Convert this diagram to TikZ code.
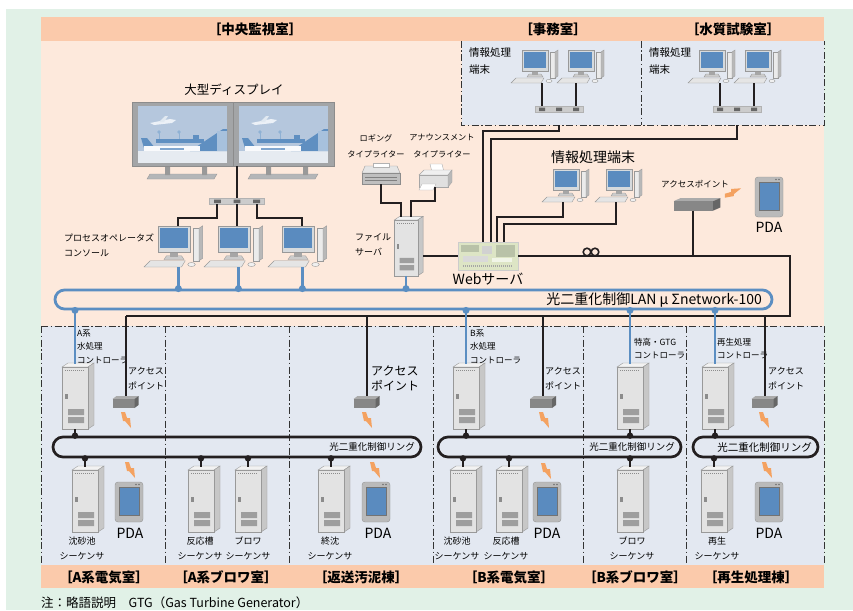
\documentclass[tikz,border=0pt]{standalone}
\usepackage{fontspec}
\setmainfont{Noto Sans CJK JP}
\usetikzlibrary{positioning}

\definecolor{pageGreen}{HTML}{E1F1E7}
\definecolor{roomHead}{HTML}{FBCAAB}
\definecolor{roomPeach}{HTML}{FDE9DC}
\definecolor{roomBlue}{HTML}{E3E8F1}
\definecolor{lanBlue}{HTML}{5B8EC2}
\definecolor{wireBlack}{HTML}{231F20}
\definecolor{screenBlue}{HTML}{5A8BBF}
\definecolor{pcFrame}{HTML}{D6DADD}
\definecolor{boltOrange}{HTML}{F4A261}
\definecolor{skyBlue}{HTML}{B5C7DD}
\definecolor{planeBlue}{HTML}{5F8FC1}
\definecolor{dispGrey}{HTML}{A3A5A7}
\definecolor{standGrey}{HTML}{B4B6B8}
\definecolor{groundWhite}{HTML}{E6EBF1}
\definecolor{webGreen}{HTML}{DDE5C5}
\definecolor{webGrey}{HTML}{B9C2A8}

\begin{document}
\begin{tikzpicture}[x=1pt, y=-1pt]
	% Styles
	\tikzstyle{wire} = [draw=wireBlack, line width=2pt]
	\tikzstyle{lanwire} = [draw=lanBlue, line width=2.8pt]
	\tikzstyle{lanring} = [draw=lanBlue, line width=2.8pt, rounded corners=9.5pt, inner sep=0pt]
	\tikzstyle{ctrlring} = [draw=wireBlack, line width=2.7pt, rounded corners=10pt, inner sep=0pt, minimum height=20pt]
	\tikzstyle{roomline} = [draw=black!80, line width=1pt, dash pattern=on 7pt off 2.5pt on 1.5pt off 2.5pt]
	\tikzstyle{roombox} = [fill=roomBlue, inner sep=0pt, minimum height=84pt]
	\tikzstyle{roomtitle} = [font=\fontsize{13.5}{16}\selectfont\bfseries, inner sep=0pt]
	\tikzstyle{lbl} = [font=\fontsize{8.5}{13.5}\selectfont, align=left, inner sep=0pt]
	\tikzstyle{lblmid} = [font=\fontsize{9}{15}\selectfont, align=center, inner sep=0pt]
	\tikzstyle{lblprint} = [font=\fontsize{8.2}{16.5}\selectfont, align=center, inner sep=0pt]
	\tikzstyle{lblbig} = [font=\fontsize{14}{16}\selectfont, inner sep=0pt]

	% Icons
	\tikzset{
		desktop/.pic={
			\filldraw[fill=black!20, draw=black!40, thin] (-8,-6) -- (8,-6) -- (6,-9) -- (-6,-9) -- cycle;
			\fill[black!35] (-3,-12) rectangle (3,-8);
			\filldraw[fill=pcFrame, draw=black!40, thin] (-13,-33) rectangle (13,-12);
			\fill[screenBlue] (-11,-31) rectangle (11,-15);
			\filldraw[fill=black!8, draw=black!40, thin] (15,-31) rectangle (20,-5);
			\filldraw[fill=black!28, draw=black!40, thin] (20,-31) -- (23,-33) -- (23,-7) -- (20,-5) -- cycle;
			\filldraw[fill=black!10, draw=black!40, thin] (-24,0) -- (6,0) -- (9,-5) -- (-19,-5) -- cycle;
			\filldraw[fill=black!6, draw=black!40, thin] (14,-2) ellipse (3pt and 1.6pt);
			\coordinate (-top) at (3.5,-33);
			\coordinate (-bot) at (3.5,0);
		},
		cabinet/.pic={
			\filldraw[fill=black!5, draw=black!40, thin] (-13,0) -- (-7,-4) -- (19,-4) -- (13,0) -- cycle;
			\filldraw[fill=black!22, draw=black!40, thin] (13,0) -- (19,-4) -- (19,58) -- (13,62) -- cycle;
			\filldraw[fill=black!11, draw=black!40, thin] (-13,0) rectangle (13,62);
			\draw[black!45, line width=1pt, dash pattern=on 1pt off 1pt] (-10,3.5) -- (10,3.5);
			\fill[black!45] (-10,27) rectangle (-7.5,32);
			\fill[black!38] (-7,42) rectangle (9,48) (-7,50) rectangle (9,56);
			\coordinate (-top) at (0,-3);
			\coordinate (-bot) at (0,62);
			\coordinate (-side) at (19,40);
		},
		accesspoint/.pic={
			\fill[black!33] (-13,3) -- (-9,0) -- (13,0) -- (9,3) -- cycle;
			\fill[black!47] (-13,3) rectangle (9,12);
			\fill[black!60] (9,3) -- (13,0) -- (13,9) -- (9,12) -- cycle;
			\coordinate (-top) at (0,0);
			\coordinate (-bot) at (-2,12);
		},
		pda/.pic={
			\filldraw[fill=black!27, draw=black!42, rounded corners=3pt] (-14,-20) rectangle (14,20);
			\filldraw[fill=screenBlue, draw=black!55, thin] (-10,-15) rectangle (10,13);
			\fill[black!55] (7,-17.5) circle (0.8pt) (10,-17.5) circle (0.8pt);
		},
		bolt/.pic={
			\fill[boltOrange] (-5,-8) -- (-1,-8) -- (1,-2) -- (4,-2) -- (5,8) -- (-1,1) -- (-3,1) -- cycle;
		},
		hub/.pic={
			\filldraw[fill=black!20, draw=black!30, thin] (-24,-3) rectangle (24,3);
			\fill[black!60] (-20,-1.5) rectangle (-14,2) (-3,-1.5) rectangle (3,2) (14,-1.5) rectangle (20,2);
			\coordinate (-n1) at (-17,-3);
			\coordinate (-n2) at (0,-3);
			\coordinate (-n3) at (17,-3);
			\coordinate (-s1) at (-17,3);
			\coordinate (-s2) at (0,3);
			\coordinate (-s3) at (17,3);
		},
		logprinter/.pic={
			\filldraw[fill=black!10, draw=black!40, thin] (-16,-9) -- (16,-9) -- (19,-2) -- (-19,-2) -- cycle;
			\filldraw[fill=white, draw=black!30, thin] (-8,-12) rectangle (8,-8);
			\filldraw[fill=black!25, draw=black!45, thin] (-19,-2) rectangle (19,9);
			\draw[black!50] (-16,2) -- (16,2) (-16,5) -- (16,5);
			\coordinate (-bot) at (0,9);
		},
		annprinter/.pic={
			\filldraw[fill=white, draw=black!30, thin] (-5,-14) -- (7,-14) -- (9,-6) -- (-3,-6) -- cycle;
			\filldraw[fill=black!6, draw=black!35, thin] (-16,-3) -- (-11,-8) -- (17,-8) -- (13,-3) -- cycle;
			\filldraw[fill=black!12, draw=black!35, thin] (-16,-3) rectangle (13,9);
			\filldraw[fill=black!28, draw=black!35, thin] (13,-3) -- (17,-8) -- (17,4) -- (13,9) -- cycle;
			\filldraw[fill=white, draw=black!30, thin] (-13,6) -- (1,6) -- (-2,12) -- (-16,12) -- cycle;
			\coordinate (-bot) at (0,9);
		},
		bigscreen/.pic={
			\filldraw[fill=standGrey, draw=black!40, thin] (18,72) -- (85,72) -- (82,77) -- (15,77) -- cycle;
			\fill[black!40] (33,64) rectangle (38,73) (70,64) rectangle (75,73);
			\filldraw[fill=dispGrey, draw=black!45, thin] (0,0) rectangle (101,64);
			\fill[skyBlue] (6,4) rectangle (95,61);
			\fill[groundWhite] (6,49) rectangle (95,61);
			% airliner in flight
			\fill[white!75!skyBlue] (18,21) -- (38,17) -- (44,18) -- (40,21) -- (22,23) -- cycle;
			\fill[white!60!skyBlue] (27,20) -- (33,14) -- (36,14) -- (32,20) -- cycle;
			% terminal building
			\fill[planeBlue] (58,49) -- (91,27) -- (95,27) -- (95,49) -- cycle;
			\fill[planeBlue!55!white] (85,29) rectangle (95,49);
			\fill[planeBlue] (24,37) rectangle (72,41);
			\draw[planeBlue!70!white, line width=0.8pt] (27,30) -- (27,37) (47,30) -- (47,37);
			\fill[planeBlue!70!white] (27,30) circle (1.8pt) (47,30) circle (1.8pt);
			\fill[planeBlue] (61,33) rectangle (67,37);
			% parked airliner
			\fill[planeBlue] (9,36) -- (15,36) -- (23,46) -- (12,46) -- cycle;
			\fill[white!92!skyBlue] (12,44) rectangle (68,49);
			\fill[planeBlue!80] (28,46) rectangle (52,47.5);
			\coordinate (-foot) at (0,64);
		}
	}

	% Page and rooms
	\useasboundingbox (0,0) rectangle (853,610);
	\fill[white] (0,0) rectangle (853,610);
	\fill[pageGreen] (6,9) rectangle (853,610);
	\fill[roomPeach] (41,17) rectangle (824,326);
	\fill[roomHead] (41,17) rectangle (824,41);
	\fill[roomBlue] (41,326) rectangle (824,565);
	\fill[roomHead] (41,565) rectangle (824,588);
	\node[roombox, minimum width=179pt] (office) at (551.5,83) {};
	\node[roombox, minimum width=183pt] (lab) at (732.5,83) {};
	\draw[roomline] (office.north west) -- (office.south west) -- (lab.south east) -- (lab.north east);
	\draw[roomline] (office.north east) -- (office.south east);
	\draw[roomline] (41,326) -- (824,326);
	\foreach \x in {41,165,289,433,583,686,824}
		\draw[roomline] (\x,326) -- (\x,565);

	% Room names
	\node[roomtitle] (centralTitle) at (255,29) {［中央監視室］};
	\node[roomtitle] (officeTitle) at (553,29) {［事務室］};
	\node[roomtitle] (labTitle) at (733,29) {［水質試験室］};
	\node[roomtitle] (aElecTitle) at (104,577) {［A系電気室］};
	\node[roomtitle] (aBlowTitle) at (226,577) {［A系ブロワ室］};
	\node[roomtitle] (sludgeTitle) at (361,577) {［返送汚泥棟］};
	\node[roomtitle] (bElecTitle) at (509,577) {［B系電気室］};
	\node[roomtitle] (bBlowTitle) at (635,577) {［B系ブロワ室］};
	\node[roomtitle] (regenTitle) at (751,577) {［再生処理棟］};

	% Central control room
	\node[font=\fontsize{12.5}{14}\selectfont, inner sep=0pt] (displayTitle) at (234,90) {大型ディスプレイ};
	\pic (monitorL) at (132,102) {bigscreen};
	\pic (monitorR) at (233,102) {bigscreen};
	\pic[xscale=1.15] (hubDisplay) at (237,201) {hub};
	\pic[scale=1.25] (consoleA) at (174,267) {desktop};
	\pic[scale=1.25] (consoleB) at (234,267) {desktop};
	\pic[scale=1.25] (consoleC) at (298,267) {desktop};
	\node[lblmid, align=left, anchor=west] (consoleLabel) at (64,245) {プロセスオペレータズ\\コンソール};

	\pic (loggingPrinter) at (381,175) {logprinter};
	\pic (announcePrinter) at (435,178) {annprinter};
	\node[lblprint] (loggingLabel) at (376,146) {ロギング\\タイプライター};
	\node[lblprint] (announceLabel) at (442,146) {アナウンスメント\\タイプライター};
	\pic[scale=0.9] (fileServer) at (406,220) {cabinet};
	\node[lblmid, align=left, anchor=west] (fileServerLabel) at (355,244.5) {ファイル\\サーバ};

	\node[draw=black!20, fill=webGreen, minimum width=60pt, minimum height=28pt, inner sep=0pt] (webServer) at (488,256) {};
	\begin{scope}[shift={(webServer.north west)}]
		\fill[webGrey] (3,3) rectangle (21,10);
		\fill[black!18] (24,4) rectangle (34,12);
		\fill[webGrey] (38,3) rectangle (57,15);
		\fill[black!15] (5,14) rectangle (30,20);
		\fill[white!60!webGreen] (34,16) rectangle (54,20);
		\draw[black!35, dash pattern=on 1pt off 1pt, line width=2pt] (5,24) -- (55,24);
	\end{scope}
	\node[lblbig, below=3pt of webServer] (webLabel) {Webサーバ};

	\node[lblbig] (infoTitle) at (593,157) {情報処理端末};
	\pic (infoPcA) at (566,202) {desktop};
	\pic (infoPcB) at (619,202) {desktop};

	\node[lbl] (apTopLabel) at (695,184) {アクセスポイント};
	\pic[xscale=1.8, yscale=1.05] (apTop) at (697,198) {accesspoint};
	\pic[rotate=88] (boltTop) at (733,193) {bolt};
	\pic (pdaTop) at (769,197) {pda};
	\node[lblbig] (pdaTopLabel) at (769,227) {PDA};

	% Office and laboratory
	\node[font=\fontsize{10.5}{16.5}\selectfont, align=left, inner sep=0pt, anchor=west] (officeLabel) at (469,61) {情報処理\\端末};
	\pic (pcOfficeA) at (535,83) {desktop};
	\pic (pcOfficeB) at (581,83) {desktop};
	\pic (hubOffice) at (559,109) {hub};
	\node[font=\fontsize{10.5}{16.5}\selectfont, align=left, inner sep=0pt, anchor=west] (labLabel) at (649,61) {情報処理\\端末};
	\pic (pcLabA) at (712,83) {desktop};
	\pic (pcLabB) at (758,83) {desktop};
	\pic (hubLab) at (737,109) {hub};

	% Optical LAN
	\node[lanring, minimum width=717pt, minimum height=19pt] (lan) at (413.5,299.5) {};
	\node[lblbig, anchor=east] (lanLabel) at (762,300) {光二重化制御LAN μ Σnetwork-100};

	% Controllers and access points
	\pic (ctrlA) at (75,367) {cabinet};
	\pic (ctrlB) at (466,367) {cabinet};
	\pic (ctrlGtg) at (630,367) {cabinet};
	\pic (ctrlRegen) at (715,367) {cabinet};
	\node[lbl, anchor=north west] (ctrlALabel) at (77,329) {A系\\水処理\\コントローラ};
	\node[lbl, anchor=north west] (ctrlBLabel) at (470,329) {B系\\水処理\\コントローラ};
	\node[lbl, anchor=north west] (ctrlGtgLabel) at (634,338) {特高・GTG\\コントローラ};
	\node[lbl, anchor=north west] (ctrlRegenLabel) at (717,338) {再生処理\\コントローラ};

	\pic (apA) at (125.5,396) {accesspoint};
	\pic (apSludge) at (366.5,396) {accesspoint};
	\pic (apB) at (543,396) {accesspoint};
	\pic (apRegen) at (764.5,396) {accesspoint};
	\node[lblmid, align=left, anchor=north west] (apALabel) at (128,367) {アクセス\\ポイント};
	\node[font=\fontsize{12}{14.5}\selectfont, align=left, inner sep=0pt, anchor=north west] (apSludgeLabel) at (371,366) {アクセス\\ポイント};
	\node[lblmid, align=left, anchor=north west] (apBLabel) at (545,367) {アクセス\\ポイント};
	\node[lblmid, align=left, anchor=north west] (apRegenLabel) at (768,367) {アクセス\\ポイント};
	\pic (boltApA) at (126,420) {bolt};
	\pic (boltApSludge) at (367,420) {bolt};
	\pic (boltApB) at (544,420) {bolt};
	\pic (boltApRegen) at (764,420) {bolt};

	% Control rings
	\node[ctrlring, minimum width=368pt] (ringA) at (237,447) {};
	\node[ctrlring, minimum width=243pt] (ringB) at (559.5,447) {};
	\node[ctrlring, minimum width=125pt] (ringRegen) at (755.5,447) {};
	\node[font=\fontsize{9.5}{11}\selectfont, inner sep=0pt, anchor=east] (ringALabel) at (415,447) {光二重化制御リング};
	\node[font=\fontsize{9.5}{11}\selectfont, inner sep=0pt, anchor=east] (ringBLabel) at (675,447) {光二重化制御リング};
	\node[font=\fontsize{10.5}{12}\selectfont, inner sep=0pt, anchor=east] (ringRegenLabel) at (812,447) {光二重化制御リング};

	% Sequencers and handhelds
	\pic (seqGrit) at (85,470) {cabinet};
	\pic (seqReactA) at (201,470) {cabinet};
	\pic (seqBlowA) at (248,470) {cabinet};
	\pic (seqFinal) at (331,470) {cabinet};
	\pic (seqGritB) at (463,470) {cabinet};
	\pic (seqReactB) at (509,470) {cabinet};
	\pic (seqBlowB) at (630,470) {cabinet};
	\pic (seqRegen) at (714,470) {cabinet};
	\node[lblmid] (seqGritLabel) at (82,548) {沈砂池\\シーケンサ};
	\node[lblmid] (seqReactALabel) at (200,548) {反応槽\\シーケンサ};
	\node[lblmid] (seqBlowALabel) at (248,548) {ブロワ\\シーケンサ};
	\node[lblmid] (seqFinalLabel) at (330,548) {終沈\\シーケンサ};
	\node[lblmid] (seqGritBLabel) at (457,548) {沈砂池\\シーケンサ};
	\node[lblmid] (seqReactBLabel) at (506,548) {反応槽\\シーケンサ};
	\node[lblmid] (seqBlowBLabel) at (632,548) {ブロワ\\シーケンサ};
	\node[lblmid] (seqRegenLabel) at (717,548) {再生\\シーケンサ};

	\pic (pdaA) at (129,502) {pda};
	\pic (pdaSludge) at (376,502) {pda};
	\pic (pdaB) at (547,502) {pda};
	\pic (pdaRegen) at (769,502) {pda};
	\pic (boltPdaA) at (130,470) {bolt};
	\pic (boltPdaSludge) at (375,470) {bolt};
	\pic (boltPdaB) at (546,471) {bolt};
	\pic (boltPdaRegen) at (767,470) {bolt};
	\node[lblbig] (pdaALabel) at (130,533) {PDA};
	\node[lblbig] (pdaSludgeLabel) at (378,533) {PDA};
	\node[lblbig] (pdaBLabel) at (547,533) {PDA};
	\node[lblbig] (pdaRegenLabel) at (769,533) {PDA};

	\node[font=\fontsize{12.5}{14}\selectfont, inner sep=0pt, anchor=west] (footNote) at (41,603) {注：略語説明　GTG（Gas Turbine Generator）};

	% Information network
	\draw[wire] (monitorR-foot -| hubDisplay-n2) -- (hubDisplay-n2);
	\draw[wire] (hubDisplay-s1) -- ++(0,14) -| (consoleA-top);
	\draw[wire] (hubDisplay-s2) -- (hubDisplay-s2 |- consoleB-top);
	\draw[wire] (hubDisplay-s3) -- ++(0,14) -| (consoleC-top);
	\draw[wire] (loggingPrinter-bot) -- ++(0,19) -| ([xshift=-5pt]fileServer-top);
	\draw[wire] (announcePrinter-bot) -- ++(0,14) -| ([xshift=5pt]fileServer-top);
	\draw[wire] (fileServer-side) -- (fileServer-side -| webServer.west);
	\draw[wire] (hubOffice-n1) -- (hubOffice-n1 |- pcOfficeA-bot);
	\draw[wire] (hubOffice-n3) -- (hubOffice-n3 |- pcOfficeB-bot);
	\draw[wire] (hubLab-n1) -- (hubLab-n1 |- pcLabA-bot);
	\draw[wire] (hubLab-n3) -- (hubLab-n3 |- pcLabB-bot);
	\draw[wire] (office.south -| hubOffice-n2) -- ++(0,6) -| ([xshift=-5pt]webServer.north);
	\draw[wire] (lab.south -| hubLab-n2) -- ++(0,14) -| ([xshift=3pt]webServer.north);
	\draw[wire] ([xshift=-7pt]infoPcA-bot) -- ++(0,15) -| ([xshift=9pt]webServer.north);
	\draw[wire] ([xshift=-7pt]infoPcB-bot) -- ++(0,22) -| ([xshift=16pt]webServer.north);
	\coordinate (trunkCorner) at (790,316);
	\draw[wire] (webServer.east) -| (trunkCorner) -- (trunkCorner -| apA-top);
	\draw[wire] (apTop-bot) -- (apTop-bot |- webServer.east);
	\foreach \ap in {apA, apSludge, apB, apRegen}
		\draw[wire] (\ap-top |- trunkCorner) -- (\ap-top);
	\draw[wire, line width=1.6pt, fill=roomPeach] (587,252) circle (3.8pt) (595,252) circle (3.8pt);

	% Ring taps
	\foreach \c/\r in {ctrlA/ringA, ctrlB/ringB, ctrlGtg/ringB, ctrlRegen/ringRegen} {
		\draw[wire] (\c-bot) -- (\c-bot |- \r.north);
		\fill[wireBlack] (\c-bot |- \r.north) circle (3.2pt);
	}
	\foreach \s/\r in {seqGrit/ringA, seqReactA/ringA, seqBlowA/ringA, seqFinal/ringA, seqGritB/ringB, seqReactB/ringB, seqBlowB/ringB, seqRegen/ringRegen} {
		\draw[wire] (\s-top |- \r.south) -- (\s-top);
		\fill[wireBlack] (\s-top |- \r.south) circle (3.2pt);
	}

	% LAN taps
	\foreach \c in {consoleA, consoleB, consoleC, fileServer} {
		\draw[lanwire] (\c-bot) -- (\c-bot |- lan.north);
		\fill[lanBlue] (\c-bot |- lan.north) circle (3.5pt);
	}
	\foreach \c in {ctrlA, ctrlB, ctrlGtg, ctrlRegen} {
		\draw[lanwire] (\c-top |- lan.south) -- (\c-top);
		\fill[lanBlue] (\c-top |- lan.south) circle (3.5pt);
	}
\end{tikzpicture}
\end{document}
